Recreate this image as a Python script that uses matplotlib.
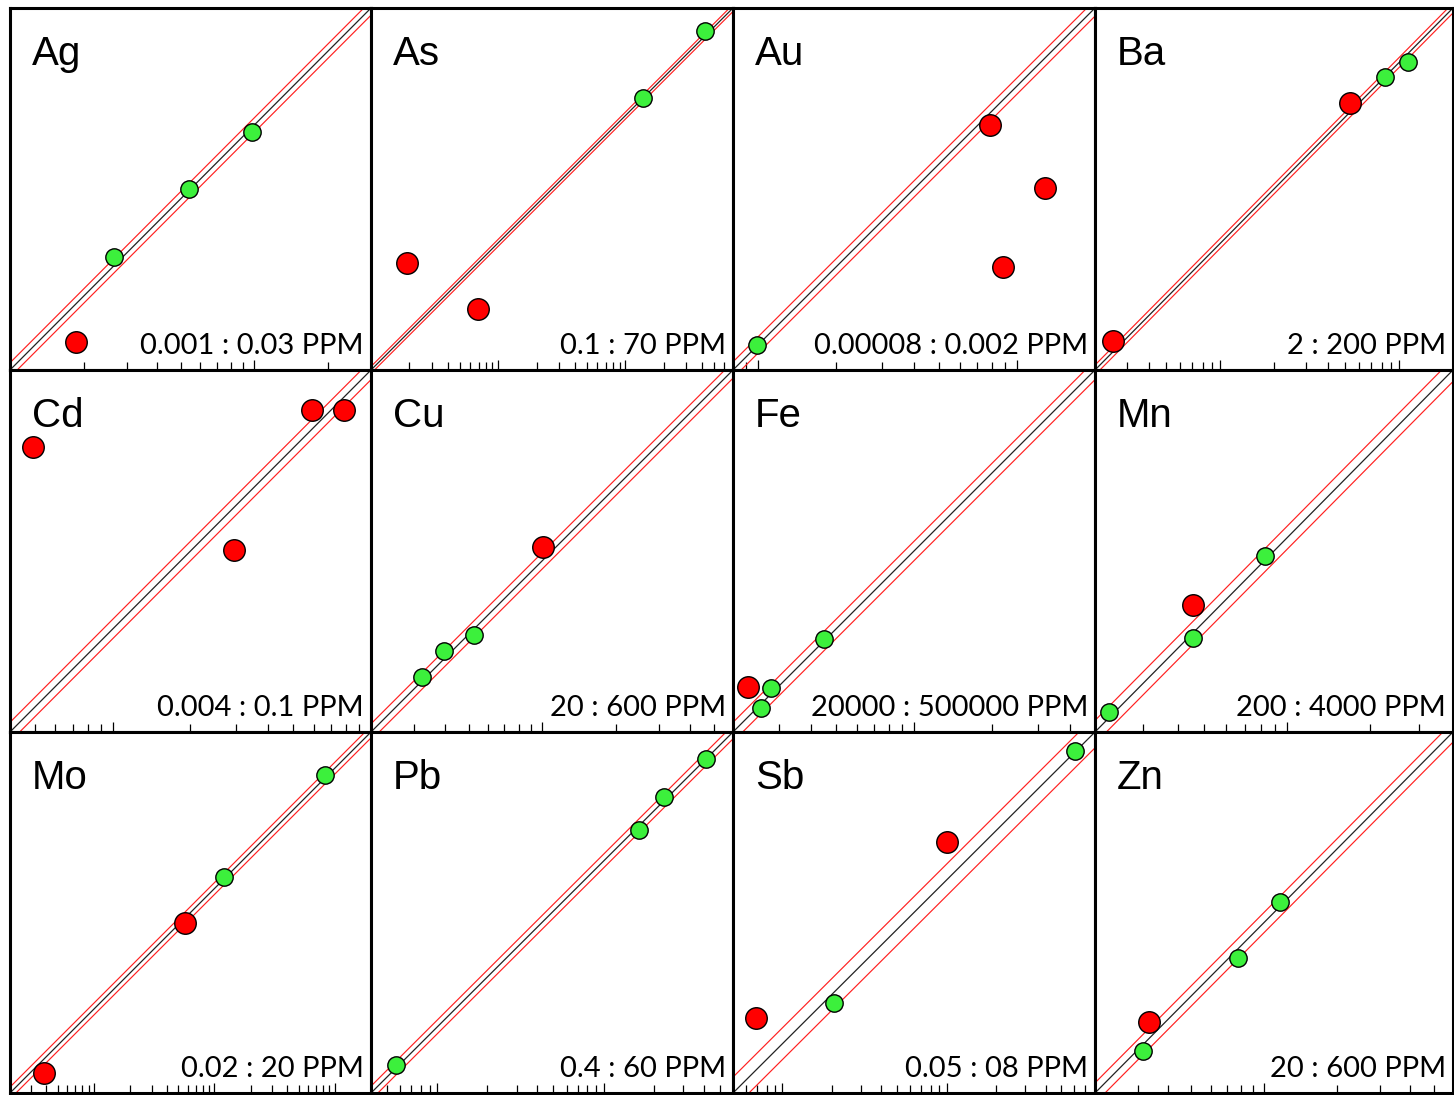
import matplotlib.pyplot as plt
import numpy as np
from matplotlib.ticker import LogLocator, NullFormatter, NullLocator

# CRM check plots: certified value (x) against measured value (y), log scales
elements = ["Ag", "As", "Au", "Ba", "Cd", "Cu", "Fe", "Mn", "Mo", "Pb", "Sb", "Zn"]
range_lo = [0.001, 0.1, 0.00008, 2, 0.004, 20, 20000, 200, 0.02, 0.4, 0.05, 20]
range_hi = [0.03, 70, 0.002, 200, 0.1, 600, 500000, 4000, 20, 60, 8, 600]
range_labels = ["0.001 : 0.03 PPM", "0.1 : 70 PPM", "0.00008 : 0.002 PPM",
                "2 : 200 PPM", "0.004 : 0.1 PPM", "20 : 600 PPM",
                "20000 : 500000 PPM", "200 : 4000 PPM", "0.02 : 20 PPM",
                "0.4 : 60 PPM", "0.05 : 08 PPM", "20 : 600 PPM"]
# factor of the red tolerance lines around y = x
tolerance = [1.07, 1.065, 1.075, 1.065, 1.09, 1.08, 1.09, 1.10, 1.12, 1.10, 1.25, 1.10]

# passing results (green)
pass_x = [[0.00267, 0.00542, 0.0098], [42.3, 13.7], [0.000099], [83.4, 112],
          [], [32.3, 39.7, 52.6], [28040, 25660, 44900], [225, 454, 830],
          [1.20, 8.30], [0.565, 16.3, 23.1, 41.2], [0.206, 6.05], [31.6, 77.8, 116]]
pass_y = [[0.0029, 0.00547, 0.00936], [46.2, 13.7], [0.0001], [83.5, 101],
          [], [33.5, 42.8, 49.8], [29580, 24760, 45720], [236, 436, 859],
          [1.25, 8.80], [0.590, 15.5, 24.4, 41.2], [0.177, 6.13], [29.8, 71.4, 121]]

# failing results (red)
fail_x = [[0.00186], [0.192, 0.693], [0.000786, 0.00128, 0.00088], [2.52, 53.2],
          [0.00491, 0.0592, 0.0788, 0.0295], [100.8], [22860], [454],
          [0.0384, 0.570], [], [0.069, 1.005], [33.4]]
fail_y = [[0.0013], [0.693, 0.302], [0.000706, 0.000404, 0.0002], [2.9, 60.0],
          [0.0504, 0.0702, 0.0702, 0.0201], [113.8], [29850], [574],
          [0.0293, 0.518], [], [0.143, 1.71], [38.9]]

W, H = 1454, 1095
col_edges = [10, 371, 733, 1095, 1453]
row_edges = [8, 370, 732, 1093]

fig = plt.figure(figsize=(W / 100, H / 100), dpi=100)

for i, name in enumerate(elements):
    r, c = divmod(i, 4)
    left, right = col_edges[c], col_edges[c + 1]
    top, bottom = row_edges[r], row_edges[r + 1]
    ax = fig.add_axes([left / W, 1 - bottom / H, (right - left) / W, (bottom - top) / H])

    lo, hi, k = range_lo[i], range_hi[i], tolerance[i]
    ax.set_xscale("log")
    ax.set_yscale("log")
    ax.set_xlim(lo, hi)
    ax.set_ylim(lo, hi)

    line = np.array([lo / 2, hi * 2])
    ax.plot(line, line, color="#222222", lw=0.9, zorder=2)
    ax.plot(line, line * k, color="#ff2020", lw=0.85, zorder=2)
    ax.plot(line, line / k, color="#ff2020", lw=0.85, zorder=2)

    ax.plot(pass_x[i], pass_y[i], "o", ms=12.5, mfc="#3cf03c", mec="black",
            mew=1.0, ls="none", zorder=4, clip_on=False)
    ax.plot(fail_x[i], fail_y[i], "o", ms=15.5, mfc="#ff0000", mec="black",
            mew=1.0, ls="none", zorder=5, clip_on=False)

    ax.annotate(name, xy=(0, 1), xycoords="axes fraction", xytext=(22, -57),
                textcoords="offset pixels", ha="left", va="baseline",
                fontsize=29, family="Liberation Sans", color="black")
    ax.annotate(range_labels[i], xy=(1, 0), xycoords="axes fraction",
                xytext=(-7, 16), textcoords="offset pixels", ha="right",
                va="baseline", fontsize=21, family="Lato", color="black", zorder=6)

    ax.xaxis.set_major_locator(LogLocator(base=10, numticks=30))
    ax.xaxis.set_minor_locator(LogLocator(base=10, subs=np.arange(2, 10), numticks=30))
    ax.xaxis.set_major_formatter(NullFormatter())
    ax.xaxis.set_minor_formatter(NullFormatter())
    ax.yaxis.set_major_locator(NullLocator())
    ax.yaxis.set_minor_locator(NullLocator())
    ax.tick_params(axis="x", which="major", direction="in", length=7, width=0.9,
                   top=False, bottom=True)
    ax.tick_params(axis="x", which="minor", direction="in", length=6, width=0.9,
                   top=False, bottom=True)
    for sp in ax.spines.values():
        sp.set_linewidth(2.2)
        sp.set_color("black")

fig.savefig("out.png", dpi=100, facecolor="white")
